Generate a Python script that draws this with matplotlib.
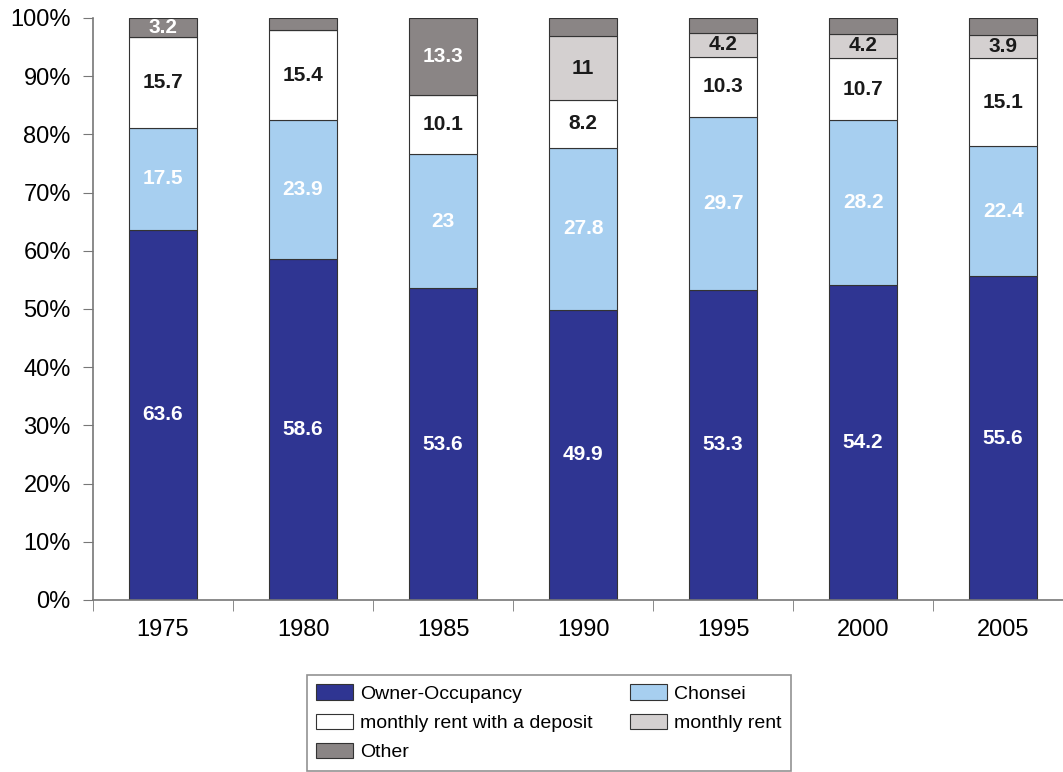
import matplotlib.pyplot as plt
import numpy as np

plt.rcParams["font.family"] = ["Liberation Sans", "DejaVu Sans"]

years = ["1975", "1980", "1985", "1990", "1995", "2000", "2005"]
owner = [63.6, 58.6, 53.6, 49.9, 53.3, 54.2, 55.6]
chonsei = [17.5, 23.9, 23, 27.8, 29.7, 28.2, 22.4]
rent_deposit = [15.7, 15.4, 10.1, 8.2, 10.3, 10.7, 15.1]
rent_monthly = [0, 0, 0, 11, 4.2, 4.2, 3.9]
other = [3.2, 2.1, 13.3, 3.1, 2.5, 2.7, 3.0]

series = [
    ("Owner-Occupancy", owner, "#2f3592", "white"),
    ("Chonsei", chonsei, "#a7cff0", "white"),
    ("monthly rent with a deposit", rent_deposit, "white", "#1a1a1a"),
    ("monthly rent", rent_monthly, "#d4d0d0", "#1a1a1a"),
    ("Other", other, "#8a8585", "white"),
]
# which "Other" values carry a label
other_labeled = [True, False, True, False, False, False, False]

fig = plt.figure(figsize=(10.63, 7.72), dpi=100)
ax = fig.add_axes([0.0875, 0.2228, 0.922, 0.7539])

x = np.arange(len(years))
bottom = np.zeros(len(years))
handles = []
for name, vals, color, tcolor in series:
    vals = np.array(vals, dtype=float)
    bars = ax.bar(x, vals, 0.49, bottom=bottom, color=color,
                  edgecolor="#333333", linewidth=0.8, label=name)
    handles.append(bars)
    for i, v in enumerate(vals):
        if v <= 0:
            continue
        if name == "Other" and not other_labeled[i]:
            continue
        ax.text(x[i], bottom[i] + v / 2, "%g" % v, ha="center", va="center",
                color=tcolor, fontsize=15, fontweight="bold")
    bottom += vals

ax.set_xlim(-0.5, len(years) - 0.5)
ax.set_ylim(0, 100)
ax.set_yticks(np.arange(0, 101, 10))
ax.set_yticklabels(["%d%%" % v for v in range(0, 101, 10)], fontsize=17)
ax.set_xticks(x)
ax.set_xticklabels(years, fontsize=17)
ax.tick_params(axis="x", length=0, pad=14)
ax.set_xticks(np.arange(-0.5, len(years), 1), minor=True)
ax.tick_params(axis="x", which="minor", length=8, color="#777777")
ax.tick_params(axis="y", length=7, color="#777777", pad=9)
for s in ["top", "right"]:
    ax.spines[s].set_visible(False)
for s in ["left", "bottom"]:
    ax.spines[s].set_color("#777777")
    ax.spines[s].set_linewidth(1.2)

order = [0, 2, 4, 1, 3]
leg = fig.legend([handles[i] for i in order], [series[i][0] for i in order],
                 ncol=2, loc="upper left", bbox_to_anchor=(0.2794, 0.1386),
                 fontsize=14, frameon=True, fancybox=False, edgecolor="#777777",
                 handlelength=1.9, handleheight=0.85, handletextpad=0.35,
                 columnspacing=1.9, labelspacing=0.55, borderpad=0.5)
leg.get_frame().set_linewidth(1.2)

fig.savefig("out.png", dpi=100)
